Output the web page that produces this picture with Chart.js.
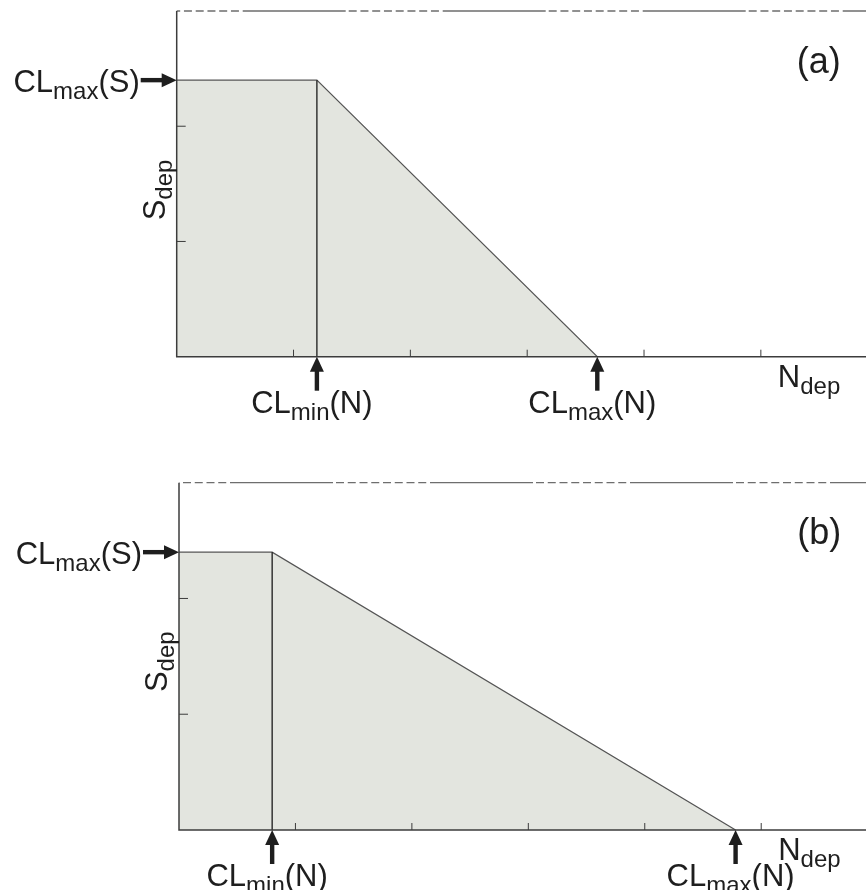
<!DOCTYPE html>
<html lang="en">
<head>
<meta charset="UTF-8">
<title>Critical loads S/N</title>
<script src="https://cdn.jsdelivr.net/npm/chart.js"></script>
<style>
    body { margin: 0; background: #fff; }
    .panel { position: absolute; left: 0; }
    #panelA { top: 0; }
    #panelB { top: 470px; }
</style>
</head>
<body>
    <canvas id="panelA" class="panel" width="866" height="430"></canvas>
    <canvas id="panelB" class="panel" width="866" height="420"></canvas>

<script>
    // data (axis units: one tick = 1)
    const panelNames = ['(a)', '(b)'];
    const clMaxS = [2.4, 2.4];
    const clMinN = [1.2, 0.8];
    const clMaxN = [3.6, 4.78];
    const xTickValues = [1, 2, 3, 4, 5];
    const yTickValues = [1, 2];
    const xMax = 5.9;
    const yMax = 3;

    const FONT = '"Liberation Sans", Arial, sans-serif';
    const INK = '#1e1e1e';

    // draws text made of normal + subscript parts, returns width
    function drawParts(ctx, parts, x, y, align) {
        const big = 31, small = 24;
        let w = 0;
        parts.forEach(p => {
            ctx.font = (p.sub ? small : big) + 'px ' + FONT;
            p.w = ctx.measureText(p.t).width;
            w += p.w;
        });
        let cx = align === 'center' ? x - w / 2 : (align === 'right' ? x - w : x);
        ctx.textAlign = 'left';
        ctx.textBaseline = 'alphabetic';
        ctx.fillStyle = INK;
        parts.forEach(p => {
            ctx.font = (p.sub ? small : big) + 'px ' + FONT;
            ctx.fillText(p.t, cx, p.sub ? y + 7 : y);
            cx += p.w;
        });
        return w;
    }

    function arrowUp(ctx, px, py) {
        ctx.fillStyle = INK;
        ctx.fillRect(px - 2.2, py + 12, 4.4, 22);
        ctx.beginPath();
        ctx.moveTo(px, py);
        ctx.lineTo(px - 7, py + 15);
        ctx.lineTo(px + 7, py + 15);
        ctx.closePath();
        ctx.fill();
    }

    function arrowRight(ctx, px, py) {
        ctx.fillStyle = INK;
        ctx.fillRect(px - 36, py - 2.2, 24, 4.4);
        ctx.beginPath();
        ctx.moveTo(px, py);
        ctx.lineTo(px - 15, py - 7);
        ctx.lineTo(px - 15, py + 7);
        ctx.closePath();
        ctx.fill();
    }

    function makeDecorPlugin(i, dashOffset) {
        return {
            id: 'decor' + i,
            afterDatasetsDraw(chart) {
                const ctx = chart.ctx;
                const area = chart.chartArea;
                const xs = chart.scales.x, ys = chart.scales.y;
                const left = area.left, bottom = area.bottom, top = area.top;
                ctx.save();

                // dashed frame top
                ctx.strokeStyle = '#6e6e6e';
                ctx.lineWidth = 1.3;
                const dashes = [];
                for (let k = 0; k < 8; k++) dashes.push(8, 3.75);
                dashes.push(103, 3);
                ctx.setLineDash(dashes);
                ctx.lineDashOffset = dashOffset;
                ctx.beginPath();
                ctx.moveTo(left, top);
                ctx.lineTo(area.right, top);
                ctx.stroke();
                ctx.setLineDash([]);

                // axes
                ctx.strokeStyle = '#3c3c3c';
                ctx.lineWidth = 1.5;
                ctx.beginPath();
                ctx.moveTo(left, top);
                ctx.lineTo(left, bottom);
                ctx.lineTo(area.right, bottom);
                ctx.stroke();

                // inward ticks
                ctx.lineWidth = 1;
                ctx.beginPath();
                xTickValues.forEach(v => {
                    const px = xs.getPixelForValue(v);
                    ctx.moveTo(px, bottom);
                    ctx.lineTo(px, bottom - 7);
                });
                yTickValues.forEach(v => {
                    const py = ys.getPixelForValue(v);
                    ctx.moveTo(left, py);
                    ctx.lineTo(left + 9, py);
                });
                ctx.stroke();

                // CLmax(S)
                const pyS = ys.getPixelForValue(clMaxS[i]);
                arrowRight(ctx, left, pyS);
                drawParts(ctx, [{ t: 'CL' }, { t: 'max', sub: true }, { t: '(S)' }], left - 37, pyS + 12, 'right');

                // CLmin(N) and CLmax(N)
                const pxMin = xs.getPixelForValue(clMinN[i]);
                const pxMax = xs.getPixelForValue(clMaxN[i]);
                arrowUp(ctx, pxMin, bottom);
                arrowUp(ctx, pxMax, bottom);
                drawParts(ctx, [{ t: 'CL' }, { t: 'min', sub: true }, { t: '(N)' }], pxMin - 5, bottom + 56, 'center');
                drawParts(ctx, [{ t: 'CL' }, { t: 'max', sub: true }, { t: '(N)' }], pxMax - 5, bottom + 56, 'center');

                // axis names
                const p5 = xs.getPixelForValue(5);
                drawParts(ctx, [{ t: 'N' }, { t: 'dep', sub: true }], p5 + 17, bottom + 30, 'left');

                ctx.save();
                ctx.translate(left - 12, top + 179);
                ctx.rotate(-Math.PI / 2);
                drawParts(ctx, [{ t: 'S' }, { t: 'dep', sub: true }], 0, 0, 'center');
                ctx.restore();

                // panel name
                ctx.font = '36px ' + FONT;
                ctx.fillStyle = INK;
                ctx.textAlign = 'left';
                ctx.fillText(panelNames[i], p5 + 36, top + 61.5);

                ctx.restore();
            }
        };
    }

    function makeChart(id, i, padding, dashOffset) {
        const ctx = document.getElementById(id).getContext('2d');
        return new Chart(ctx, {
            type: 'line',
            data: {
                datasets: [{
                    // exceedance-free area
                    data: [
                        { x: 0, y: clMaxS[i] },
                        { x: clMinN[i], y: clMaxS[i] },
                        { x: clMaxN[i], y: 0 }
                    ],
                    fill: 'origin',
                    backgroundColor: '#e3e5df',
                    borderColor: '#555555',
                    borderWidth: 1.2,
                    pointRadius: 0,
                    tension: 0,
                    order: 1
                }, {
                    // CLmin(N) divider, drawn on top of the fill
                    data: [
                        { x: clMinN[i], y: 0 },
                        { x: clMinN[i], y: clMaxS[i] }
                    ],
                    fill: false,
                    borderColor: '#1a1a1a',
                    borderWidth: 1.3,
                    pointRadius: 0,
                    order: 0
                }]
            },
            options: {
                responsive: false,
                animation: false,
                layout: { padding: padding },
                scales: {
                    x: { type: 'linear', min: 0, max: xMax, display: false },
                    y: { type: 'linear', min: 0, max: yMax, display: false }
                },
                plugins: {
                    legend: { display: false },
                    tooltip: { enabled: false }
                }
            },
            plugins: [makeDecorPlugin(i, dashOffset)]
        });
    }

    makeChart('panelA', 0, { left: 176.7, top: 11, right: 0, bottom: 73.3 }, 28);
    makeChart('panelB', 1, { left: 179, top: 12.7, right: 0, bottom: 60 }, 43);
</script>
</body>
</html>
